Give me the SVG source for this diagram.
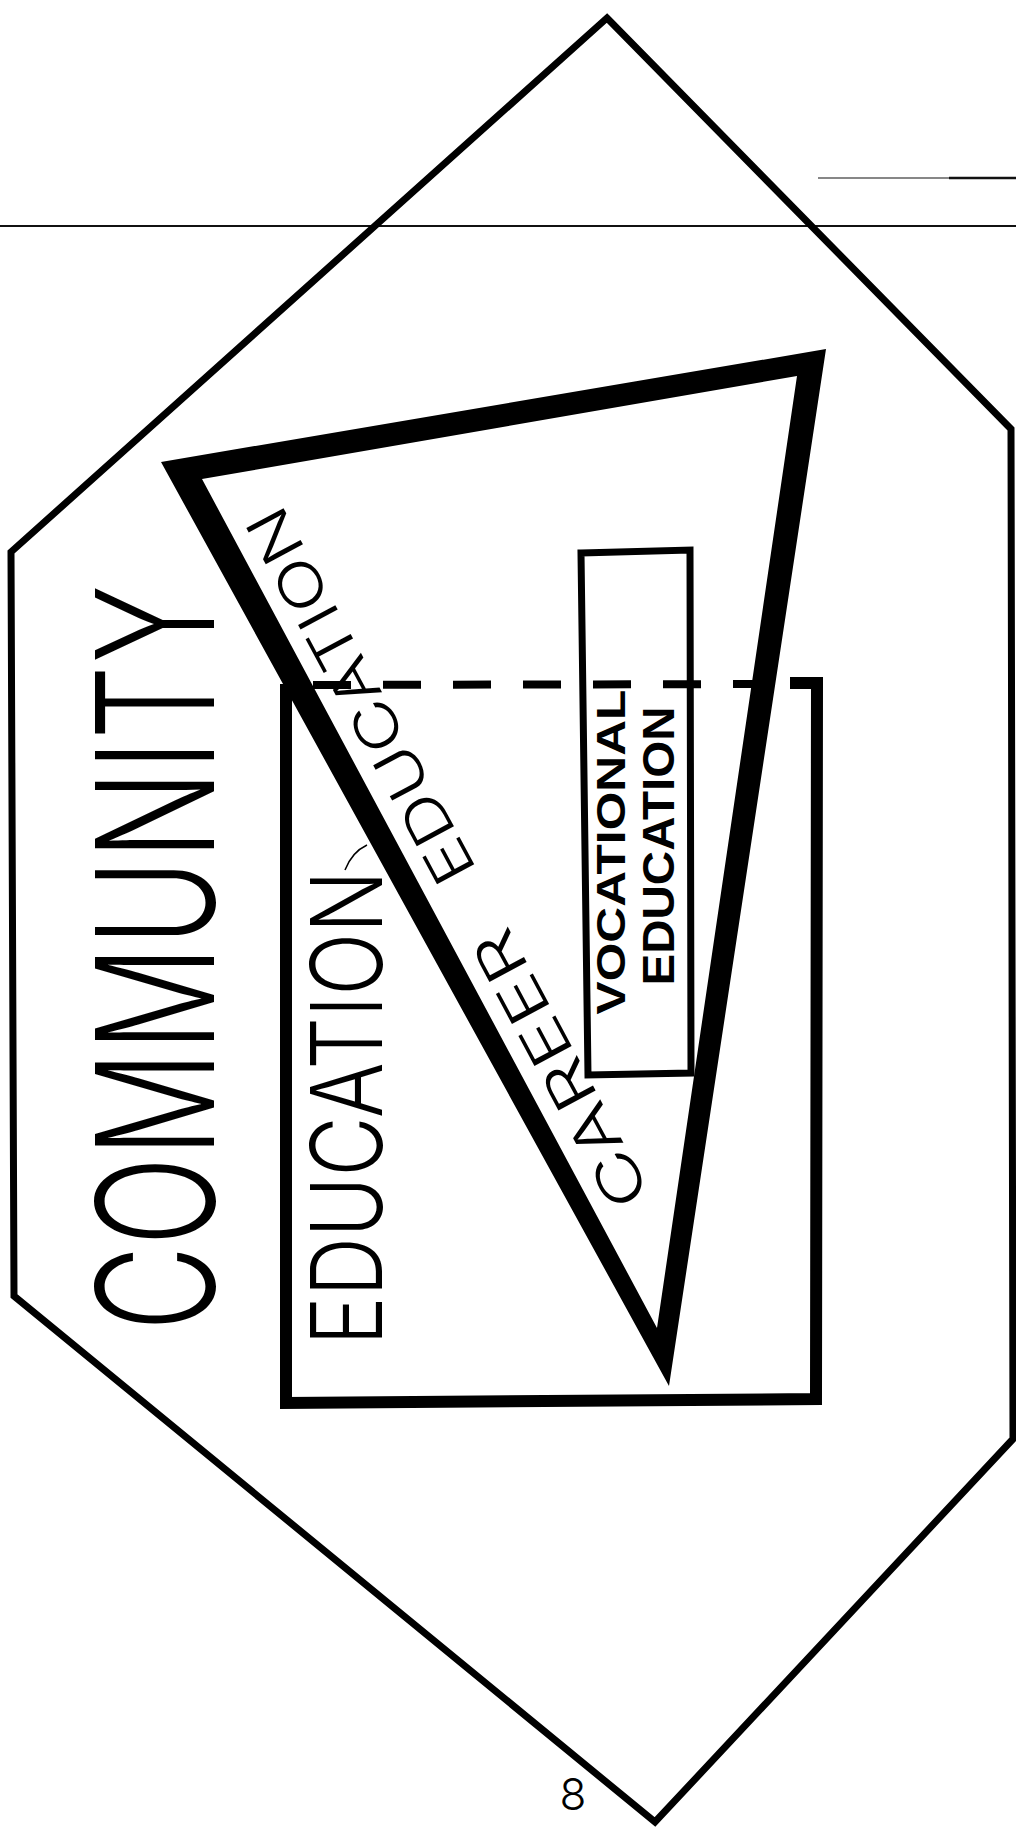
<svg xmlns="http://www.w3.org/2000/svg" width="1016" height="1836" viewBox="0 0 1016 1836">
  <style>
    .ink { fill: none; stroke: #000; stroke-linejoin: miter; }
    .hand { font-family: Inter, "Liberation Sans", sans-serif; font-weight: 300; fill: #000; }
    .block { font-family: "Liberation Sans", Arial, sans-serif; font-weight: bold; fill: #000; }
    .scan { stroke: #111; fill: none; }
  </style>
  <rect x="0" y="0" width="1016" height="1836" fill="#fff"/>

  <g id="scan-lines">
    <line class="scan" x1="0" y1="226" x2="1016" y2="226" stroke-width="2"/>
    <line class="scan" x1="818" y1="178" x2="949" y2="178" stroke-width="1.2"/>
    <line class="scan" x1="949" y1="178" x2="1016" y2="178" stroke-width="2.5"/>
  </g>

  <g id="community">
    <polygon class="ink" stroke-width="7" points="607,18 1011,429 1013,1439 655,1822 14,1296 11,552"/>
    <text class="hand" font-size="163" text-anchor="middle" textLength="746" lengthAdjust="spacingAndGlyphs" transform="translate(214,958) rotate(-90)">COMMUNITY</text>
  </g>

  <g id="education">
    <path class="ink" stroke-width="12" d="M286,684 L286,1403 L816,1399 L817,683 L790,683"/>
    <line class="ink" x1="313" y1="685" x2="785" y2="684" stroke-width="8" stroke-dasharray="38 32"/>
    <text class="hand" font-size="99" text-anchor="middle" textLength="475" lengthAdjust="spacingAndGlyphs" transform="translate(382,1108) rotate(-90)">EDUCATION</text>
    <path class="ink" stroke-width="1.5" d="M345,870 Q352,852 367,845"/>
  </g>

  <g id="career-education">
    <path fill="#000" fill-rule="evenodd" d="M161,462 L826,349 L669,1386 Z M202,479 L797,376 L657,1328 Z"/>
    <text class="hand" font-size="58" font-weight="400" textLength="307" lengthAdjust="spacingAndGlyphs" transform="translate(651.4,1194.8) rotate(-118.19)">CAREER</text>
    <text class="hand" font-size="58" font-weight="400" textLength="418" lengthAdjust="spacingAndGlyphs" transform="translate(477.6,870.5) rotate(-118.19)">EDUCATION</text>
  </g>

  <g id="vocational-education">
    <polygon class="ink" stroke-width="7" points="581,553 690,550 691,1073 588,1075"/>
    <text class="block" font-size="40" text-anchor="middle" textLength="325" lengthAdjust="spacingAndGlyphs" transform="translate(625,852) rotate(-90)">VOCATIONAL</text>
    <text class="block" font-size="44" text-anchor="middle" textLength="279" lengthAdjust="spacingAndGlyphs" transform="translate(674,846) rotate(-90)">EDUCATION</text>
  </g>

  <g id="page-number">
    <text class="hand" font-size="44" font-weight="400" text-anchor="middle" x="573" y="1810">8</text>
  </g>
</svg>
